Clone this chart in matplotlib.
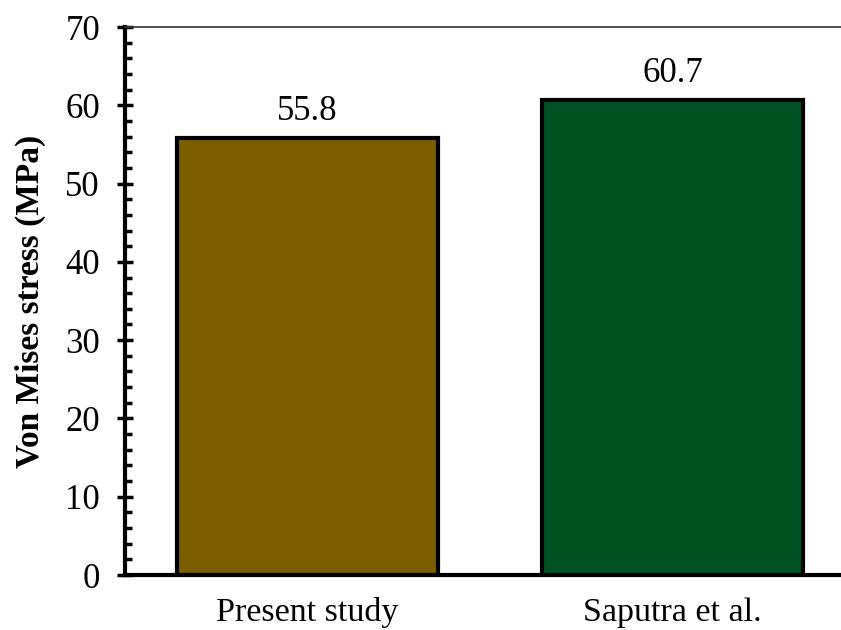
import matplotlib
matplotlib.use("Agg")
import matplotlib.pyplot as plt
from matplotlib.ticker import MultipleLocator

categories = ["Present study", "Saputra et al."]
stress = [55.8, 60.7]
colors = ["#7B5E00", "#005225"]

plt.rcParams["font.family"] = ["Liberation Serif", "DejaVu Serif"]

fig = plt.figure(figsize=(8.41, 6.30), dpi=100)
ax = fig.add_axes([125 / 841, 55 / 630, 1 - 125 / 841, (575 - 27) / 630])

x = list(range(len(categories)))
bars = ax.bar(x, stress, width=0.714, color=colors, edgecolor="black", linewidth=3, zorder=2)
for b, v in zip(bars, stress):
    ax.annotate(f"{v:.1f}", (b.get_x() + b.get_width() / 2, v), xytext=(0, 7),
                textcoords="offset points", ha="center", va="bottom", fontsize=25)

ax.set_xlim(-0.5, 1.462)
ax.set_ylim(0, 70)
ax.set_xticks(x)
ax.set_xticklabels(categories, fontsize=24.5)
ax.yaxis.set_major_locator(MultipleLocator(10))
ax.yaxis.set_minor_locator(MultipleLocator(2))
ax.tick_params(axis="y", which="major", direction="inout", length=12, width=2.5, labelsize=25, pad=12)
ax.tick_params(axis="y", which="minor", direction="in", length=5, width=2.5)
ax.tick_params(axis="x", length=0, pad=16)
ax.set_ylabel("Von Mises stress (MPa)", fontsize=24, fontweight="bold", labelpad=14)

ax.spines["right"].set_visible(False)
ax.spines["left"].set_linewidth(3)
ax.spines["bottom"].set_linewidth(3)
ax.spines["top"].set_linewidth(1.2)
ax.spines["top"].set_color("#333333")

fig.savefig("out.png", dpi=100)
